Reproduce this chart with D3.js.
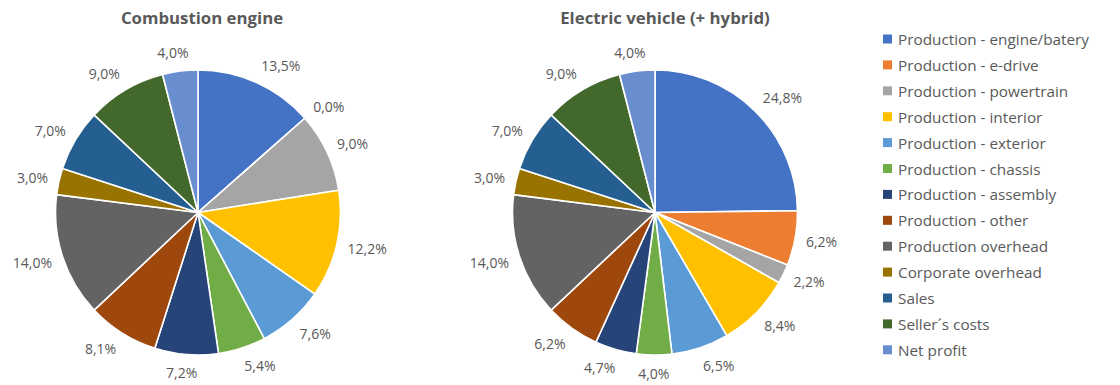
<!DOCTYPE html>
<html>
<head>
<meta charset="utf-8">
<script src="https://cdn.jsdelivr.net/npm/d3@7"></script>
<style>
  html, body { margin: 0; padding: 0; background: #fff; }
  svg { display: block; font-family: "Open Sans", "Noto Sans", sans-serif; }
</style>
</head>
<body>
<svg id="chart" width="1120" height="385"></svg>
<script>
// Cost categories (shared by both pies and the legend)
const categories = [
  "Production - engine/batery",
  "Production - e-drive",
  "Production - powertrain",
  "Production - interior",
  "Production - exterior",
  "Production - chassis",
  "Production - assembly",
  "Production - other",
  "Production overhead",
  "Corporate overhead",
  "Sales",
  "Seller\u00b4s costs",
  "Net profit"
];

// Share of vehicle price, in percent
const combustionValues = [13.5, 0.0, 9.0, 12.2, 7.6, 5.4, 7.2, 8.1, 14.0, 3.0, 7.0, 9.0, 4.0];
const electricValues   = [24.8, 6.2, 2.2, 8.4, 6.5, 4.0, 4.7, 6.2, 14.0, 3.0, 7.0, 9.0, 4.0];

const chartTitles = ["Combustion engine", "Electric vehicle (+ hybrid)"];

const palette = ["#4472C4", "#ED7D31", "#A5A5A5", "#FFC000", "#5B9BD5", "#70AD47",
                 "#264478", "#9E480E", "#636363", "#997300", "#255E91", "#43682B", "#698ED0"];

const svg = d3.select("#chart");
const color = d3.scaleOrdinal().domain(categories).range(palette);
const textColor = "#595959";
const fmt = v => d3.format(".1f")(v).replace(".", ",") + "%";

const radius = 142.5;
const pies = [
  { title: chartTitles[0], values: combustionValues, cx: 198, cy: 212.5, tx: 202 },
  { title: chartTitles[1], values: electricValues,   cx: 655, cy: 212.5, tx: 665 }
];

const pie = d3.pie().sort(null).value(d => d.value);
const arc = d3.arc().innerRadius(0).outerRadius(radius);

pies.forEach(p => {
  const data = categories.map((c, i) => ({ cat: c, value: p.values[i] }));
  const arcs = pie(data);

  svg.append("text")
    .attr("x", p.tx).attr("y", 24)
    .attr("text-anchor", "middle")
    .attr("font-size", 16.8).attr("font-weight", "bold")
    .attr("fill", textColor)
    .text(p.title);

  const g = svg.append("g").attr("transform", `translate(${p.cx},${p.cy})`);

  g.selectAll("path").data(arcs).join("path")
    .attr("d", arc)
    .attr("fill", d => color(d.data.cat))
    .attr("stroke", "#fff")
    .attr("stroke-width", 1.6)
    .attr("stroke-linejoin", "round");

  // Outside-end data labels: anchored just off the rim on the mid-angle ray,
  // the label box then pushed sideways/outward away from the pie
  const R = radius + 11;
  g.selectAll("text.lbl").data(arcs).join("text")
    .attr("class", "lbl")
    .attr("font-size", 14)
    .attr("fill", textColor)
    .attr("text-anchor", "middle")
    .attr("dominant-baseline", "central")
    .text(d => fmt(d.data.value))
    .each(function (d) {
      const w = this.getComputedTextLength();
      const h = 15;
      const a = (d.startAngle + d.endAngle) / 2;
      const s = Math.sin(a), c = Math.cos(a);
      const x = R * s + Math.sign(s) * (w / 2) * Math.min(1, 3 * Math.abs(s));
      const y = -R * c - c * h / 2;
      d3.select(this).attr("x", x).attr("y", y);
    });
});

// Legend
const legend = svg.append("g").attr("transform", "translate(883,39)");
const rowH = 25.9;
const rows = legend.selectAll("g").data(categories).join("g")
  .attr("transform", (d, i) => `translate(0,${i * rowH})`);
rows.append("rect")
  .attr("x", 0).attr("y", -4.5).attr("width", 9).attr("height", 9)
  .attr("fill", d => color(d));
rows.append("text")
  .attr("x", 15).attr("y", 0)
  .attr("dominant-baseline", "central")
  .attr("font-size", 15.3)
  .attr("fill", textColor)
  .text(d => d);
</script>
</body>
</html>
